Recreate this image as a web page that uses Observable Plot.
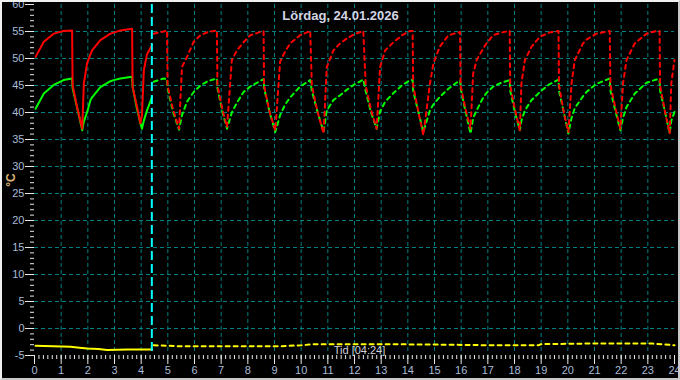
<!DOCTYPE html>
<html><head><meta charset="utf-8">
<script src="https://cdn.jsdelivr.net/npm/d3@7"></script>
<script src="https://cdn.jsdelivr.net/npm/@observablehq/plot@0.6"></script>
<style>
html,body{margin:0;padding:0;background:#000;}
#wrap{position:relative;width:680px;height:380px;overflow:hidden;}
#border{position:absolute;left:0;top:0;width:680px;height:380px;box-sizing:border-box;border:2px solid;border-color:#f0f0f0 #c8c8c8 #c8c8c8 #f0f0f0;pointer-events:none;}
svg{display:block;}
</style></head><body><div id="wrap"><div id="border"></div></div>
<script>
const title = "Lördag, 24.01.2026";
const timeLabel = "Tid [04:24]";
const unitLabel = "°C";
const nowHour = 4.4;

// today's measurements (solid)
const nowHours = [0.04, 0.35, 0.72, 1.09, 1.41, 1.43, 1.62, 1.79, 1.85, 1.97, 2.1, 2.16, 2.47, 2.85, 2.97, 3.22, 3.66, 3.68, 3.85, 3.97, 4.03, 4.1, 4.22, 4.41];
const nowRed   = [50.3, 53.1, 54.6, 55.1, 55.2, 45.0, 40.5, 37.0, 45.4, 49.1, 50.8, 51.5, 53.4, 54.6, 54.8, 55.2, 55.5, 44.7, 41.0, 38.0, 39.5, 47.8, 50.8, 52.5];
const nowGreen = [40.7, 43.5, 45.1, 46.0, 46.3, 44.5, 40.4, 36.7, 38.3, 40.0, 42.3, 42.8, 44.7, 45.8, 46.0, 46.3, 46.6, 44.7, 40.5, 38.0, 37.0, 38.5, 40.4, 42.9];
const nowYellowHours = [0.04, 1.35, 1.6, 1.97, 2.4, 2.72, 3.5, 4.41];
const nowYellow      = [-3.2, -3.4, -3.5, -3.7, -3.8, -4.0, -3.9, -3.9];

// previous-day curves (dashed)
const prevHours = [4.47, 4.84, 4.97, 4.99, 5.2, 5.42, 5.53, 5.72, 5.97, 6.22, 6.5, 6.84, 6.86, 7.05, 7.22, 7.4, 7.59, 7.84, 8.09, 8.59, 8.61, 8.82, 9.03, 9.21, 9.4, 9.59, 9.96, 10.34, 10.4, 10.62, 10.84, 10.96, 11.21, 11.46, 11.71, 12.0, 12.33, 12.42, 12.62, 12.83, 12.96, 13.15, 13.46, 13.78, 14.08, 14.18, 14.2, 14.4, 14.58, 14.83, 14.96, 15.2, 15.52, 15.96, 15.98, 16.17, 16.35, 16.45, 16.58, 16.83, 16.95, 17.2, 17.5, 17.82, 17.84, 18.02, 18.2, 18.26, 18.39, 18.64, 18.83, 18.95, 19.3, 19.65, 19.67, 19.85, 20.02, 20.14, 20.26, 20.57, 20.7, 21.07, 21.57, 21.6, 21.8, 21.97, 22.07, 22.2, 22.51, 22.95, 23.32, 23.44, 23.46, 23.65, 23.82, 23.88, 24.0];
const prevRed   = [54.6, 55.0, 55.2, 45.0, 40.5, 37.0, 48.4, 50.3, 53.1, 54.3, 54.9, 55.2, 45.0, 40.5, 37.3, 49.7, 51.5, 53.0, 54.3, 55.1, 45.0, 40.0, 36.7, 49.4, 51.3, 52.8, 54.3, 55.1, 45.0, 40.0, 36.1, 48.4, 51.5, 52.8, 53.7, 54.5, 55.1, 45.0, 40.5, 37.0, 48.4, 51.5, 53.0, 54.3, 55.1, 55.1, 45.0, 40.0, 35.8, 45.4, 49.1, 52.2, 54.3, 54.9, 45.0, 40.5, 37.0, 47.2, 49.7, 51.9, 52.8, 54.3, 54.8, 55.1, 45.0, 40.5, 36.7, 45.4, 49.7, 52.2, 53.3, 54.0, 54.8, 55.1, 45.0, 40.0, 36.4, 45.4, 49.7, 52.8, 53.5, 54.6, 55.1, 45.0, 40.5, 37.0, 45.4, 49.7, 52.8, 54.6, 55.1, 55.1, 45.0, 40.0, 36.1, 45.4, 49.7];
const prevGreen = [45.7, 46.3, 46.2, 44.5, 40.0, 36.8, 39.5, 42.0, 43.8, 45.0, 45.8, 46.3, 44.5, 40.0, 37.0, 40.0, 41.8, 43.8, 44.8, 46.2, 44.5, 40.0, 36.4, 39.5, 41.5, 42.8, 44.8, 46.0, 44.0, 40.0, 36.4, 40.4, 42.3, 43.2, 44.2, 45.2, 46.1, 44.0, 40.0, 37.0, 40.2, 42.0, 43.6, 45.0, 46.0, 46.0, 44.0, 40.0, 36.4, 40.4, 41.5, 42.9, 44.4, 46.0, 44.5, 40.0, 36.1, 39.0, 40.4, 42.8, 43.6, 44.8, 45.5, 46.0, 44.0, 40.0, 36.7, 38.5, 40.4, 42.3, 43.2, 43.8, 45.2, 46.1, 44.0, 40.0, 36.1, 39.0, 40.8, 43.0, 43.8, 45.3, 46.3, 44.0, 40.0, 36.7, 39.0, 41.0, 43.5, 45.5, 46.1, 46.1, 44.0, 40.0, 36.1, 38.5, 40.1];
const prevYellowHours = [4.47, 5.5, 7.3, 9.2, 10.0, 10.5, 13.0, 15.5, 17.0, 18.9, 19.0, 20.6, 23.2, 23.5, 24.0];
const prevYellow      = [-3.1, -3.3, -3.3, -3.3, -3.1, -2.9, -2.9, -3.0, -3.1, -3.1, -2.9, -2.8, -2.8, -2.9, -3.1];

// axis ticks
const yMajor = [-5, 0, 5, 10, 15, 20, 25, 30, 35, 40, 45, 50, 55, 60];
const yGrid = [0, 5, 10, 15, 20, 25, 30, 35, 40, 45, 50, 55];
const yMinor = d3.range(-5, 61, 1);
const xMajor = d3.range(0, 25, 1);
const xGrid = d3.range(1, 24, 1);
const xMinor = d3.range(0, 144.5, 1).map(i => i / 6);

const nowData = nowHours.map((t, i) => ({t, red: nowRed[i], green: nowGreen[i]}));
const prevData = prevHours.map((t, i) => ({t, red: prevRed[i], green: prevGreen[i]}));
const nowY = nowYellowHours.map((t, i) => ({t, v: nowYellow[i]}));
const prevY = prevYellowHours.map((t, i) => ({t, v: prevYellow[i]}));

const gridColor = "#008080";
const labelColor = "#a8bcd8";
const tickColor = "#e8e8e8";
const dash = "4,4";

const chart = Plot.plot({
  width: 680, height: 380,
  marginLeft: 34, marginRight: 6, marginTop: 4, marginBottom: 25,
  style: {background: "#000", fontFamily: "'Liberation Sans', Arial, sans-serif"},
  x: {domain: [0, 24], axis: null, label: null},
  y: {domain: [-5, 60], axis: null, label: null},
  marks: [
    Plot.gridY(yGrid, {stroke: gridColor, strokeOpacity: 1, strokeDasharray: "4,3"}),
    Plot.gridX(xGrid, {stroke: gridColor, strokeOpacity: 1, strokeDasharray: "4,3"}),
    Plot.axisY(yMinor, {tickSize: 4, text: null, label: null, stroke: tickColor}),
    Plot.axisY(yMajor, {tickSize: 9, tickPadding: 1, label: null, stroke: tickColor, fill: labelColor, fontSize: 11, tickFormat: d => String(d)}),
    Plot.axisX(xMinor, {tickSize: 4, text: null, label: null, stroke: tickColor}),
    Plot.axisX(xMajor, {tickSize: 9, tickPadding: 2, label: null, stroke: tickColor, fill: labelColor, fontSize: 11, tickFormat: d => String(d)}),
    Plot.line(prevY, {x: "t", y: "v", stroke: "#ffff00", strokeWidth: 2, strokeDasharray: dash}),
    Plot.line(nowY, {x: "t", y: "v", stroke: "#ffff00", strokeWidth: 2}),
    Plot.line(prevData, {x: "t", y: "green", stroke: "#00ff00", strokeWidth: 2, strokeDasharray: dash}),
    Plot.line(prevData, {x: "t", y: "red", stroke: "#ff0000", strokeWidth: 2, strokeDasharray: dash}),
    Plot.line(nowData, {x: "t", y: "green", stroke: "#00ff00", strokeWidth: 2}),
    Plot.line(nowData, {x: "t", y: "red", stroke: "#ff0000", strokeWidth: 2}),
    Plot.ruleX([nowHour], {stroke: "#00ffff", strokeWidth: 2, strokeDasharray: "9,4"}),
    Plot.text([title], {text: d => d, frameAnchor: "top", dx: -14, dy: 6, fill: "#d4d4e4", fontSize: 13, fontWeight: "bold"}),
    Plot.text([timeLabel], {text: d => d, frameAnchor: "bottom", lineAnchor: "bottom", dx: 5, dy: -2, fill: "#d0d0dc", fontSize: 11}),
    Plot.text([unitLabel], {text: d => d, frameAnchor: "left", textAnchor: "middle", lineAnchor: "middle", rotate: -90, dx: -23, fill: "#dcb478", fontSize: 12, fontWeight: "bold"})
  ]
});
document.getElementById("wrap").prepend(chart);
</script>
</body></html>
